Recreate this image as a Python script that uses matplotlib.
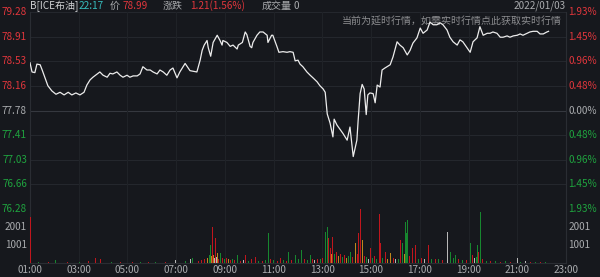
import matplotlib
matplotlib.use("Agg")
import matplotlib.pyplot as plt
from matplotlib.transforms import blended_transform_factory

plt.rcParams['font.family'] = ['Noto Sans CJK SC', 'DejaVu Sans']

# ---------------- data ----------------
prev_close = 77.78
price_ticks = [79.28, 78.91, 78.53, 78.16, 77.78, 77.41, 77.03, 76.66, 76.28]
price_tick_labels = ["79.28", "78.91", "78.53", "78.16", "77.78", "77.41", "77.03", "76.66", "76.28"]
pct_tick_labels = ["1.93%", "1.45%", "0.96%", "0.48%", "0.00%", "0.48%", "0.96%", "1.45%", "1.93%"]
vol_ticks = [1001, 2001]
vol_tick_labels = ["1001", "2001"]
time_tick_labels = ["01:00", "03:00", "05:00", "07:00", "09:00", "11:00", "13:00",
                    "15:00", "17:00", "19:00", "21:00", "23:00"]

price_times = ["01:00", "01:05", "01:12", "01:17", "01:25", "01:30", "01:37", "01:44", "01:54",
               "02:04", "02:14", "02:24", "02:34", "02:43", "02:53", "03:03", "03:13", "03:20",
               "03:28", "03:35", "03:52", "04:00", "04:10", "04:17", "04:24", "04:34", "04:42",
               "04:49", "04:59", "05:06", "05:14", "05:24", "05:31", "05:38", "05:48", "05:56",
               "06:03", "06:13", "06:20", "06:28", "06:37", "06:45", "06:52", "07:02", "07:09",
               "07:17", "07:22", "07:34", "07:51", "07:59", "08:04", "08:09", "08:16", "08:19",
               "08:25", "08:31", "08:41", "08:48", "08:53", "08:55", "09:05", "09:13", "09:20",
               "09:30", "09:33", "09:43", "09:50", "09:54", "10:02", "10:06", "10:09", "10:19",
               "10:26", "10:34", "10:44", "10:46", "10:55", "10:58", "11:08", "11:13", "11:23",
               "11:33", "11:40", "11:48", "11:53", "12:00", "12:05", "12:12", "12:22", "12:30",
               "12:37", "12:47", "12:54", "13:02", "13:07", "13:12", "13:19", "13:26", "13:29",
               "13:36", "13:44", "13:51", "14:01", "14:08", "14:16", "14:25", "14:28", "14:33",
               "14:38", "14:43", "14:48", "14:52", "14:57", "15:05", "15:10", "15:15", "15:22",
               "15:27", "15:34", "15:47", "15:54", "16:04", "16:11", "16:19", "16:29", "16:36",
               "16:43", "16:53", "17:01", "17:08", "17:18", "17:25", "17:33", "17:42", "17:50",
               "17:57", "18:07", "18:14", "18:22", "18:32", "18:39", "18:46", "18:56", "19:04",
               "19:11", "19:21", "19:28", "19:36", "19:46", "19:53", "20:00", "20:10", "20:18",
               "20:25", "20:35", "20:42", "20:50", "21:00", "21:07", "21:14", "21:24", "21:31",
               "21:39", "21:49", "21:56", "22:04", "22:13", "22:17"]
price_values = [78.51, 78.37, 78.36, 78.49, 78.48, 78.40, 78.28, 78.16, 78.08,
                78.03, 78.06, 78.02, 78.06, 78.02, 78.05, 78.02, 78.06, 78.17,
                78.25, 78.29, 78.37, 78.32, 78.29, 78.35, 78.34, 78.37, 78.32,
                78.29, 78.32, 78.29, 78.31, 78.31, 78.34, 78.45, 78.40, 78.40,
                78.37, 78.34, 78.40, 78.37, 78.32, 78.40, 78.43, 78.28, 78.37,
                78.45, 78.50, 78.39, 78.37, 78.55, 78.70, 78.78, 78.85, 78.74,
                78.61, 78.82, 78.93, 78.85, 78.78, 78.85, 78.82, 78.76, 78.78,
                78.72, 78.78, 78.82, 78.98, 78.94, 78.76, 78.74, 78.82, 78.93,
                78.98, 78.98, 78.93, 78.82, 78.93, 78.93, 78.76, 78.67, 78.68,
                78.67, 78.68, 78.67, 78.54, 78.55, 78.49, 78.45, 78.37, 78.32,
                78.28, 78.22, 78.16, 78.11, 78.06, 77.73, 77.59, 77.38, 77.65,
                77.56, 77.49, 77.43, 77.33, 77.53, 77.08, 77.33, 77.62, 78.04,
                78.18, 78.11, 77.72, 78.02, 78.05, 78.04, 77.90, 78.17, 78.14,
                78.40, 78.43, 78.48, 78.60, 78.83, 78.78, 78.74, 78.63, 78.70,
                78.81, 78.89, 79.04, 78.96, 79.01, 79.13, 79.09, 79.09, 79.12,
                79.09, 79.01, 78.90, 78.83, 78.78, 78.86, 78.83, 78.74, 78.67,
                78.83, 78.89, 79.06, 78.93, 78.96, 78.96, 78.98, 78.96, 78.90,
                78.90, 78.92, 78.90, 78.92, 78.93, 78.95, 78.93, 78.96, 78.98,
                78.99, 78.99, 78.95, 78.95, 78.98, 78.99]

vol_times = ["01:00", "01:20", "01:45", "02:02", "02:30", "03:00", "03:23", "03:40", "03:52",
             "04:20", "04:42", "05:10", "05:31", "05:50", "06:08", "06:33", "06:57", "07:22",
             "07:34", "07:39", "07:54", "08:01", "08:09", "08:16", "08:21", "08:23", "08:26",
             "08:28", "08:31", "08:33", "08:36", "08:38", "08:41", "08:43", "08:48", "08:53",
             "08:58", "09:03", "09:08", "09:13", "09:18", "09:22", "09:30", "09:37", "09:45",
             "09:50", "09:57", "10:04", "10:14", "10:22", "10:31", "10:39", "10:46", "10:51",
             "10:58", "11:08", "11:16", "11:23", "11:31", "11:35", "11:43", "11:53", "12:00",
             "12:07", "12:15", "12:22", "12:30", "12:35", "12:40", "12:47", "12:54", "12:59",
             "13:07", "13:12", "13:14", "13:19", "13:21", "13:24", "13:29", "13:34", "13:39",
             "13:44", "13:48", "13:53", "13:58", "14:03", "14:08", "14:13", "14:20", "14:25",
             "14:28", "14:33", "14:38", "14:43", "14:48", "14:52", "14:57", "15:02", "15:07",
             "15:12", "15:20", "15:22", "15:27", "15:34", "15:39", "15:47", "15:54", "15:59",
             "16:06", "16:11", "16:16", "16:21", "16:23", "16:26", "16:28", "16:33", "16:41",
             "16:48", "16:56", "17:03", "17:10", "17:20", "17:28", "17:38", "17:45", "17:55",
             "18:07", "18:14", "18:22", "18:27", "18:34", "18:44", "18:54", "19:04", "19:09",
             "19:14", "19:19", "19:21", "19:23", "19:28", "19:33", "19:43", "19:53", "20:05",
             "20:18", "20:30", "20:42", "21:00", "21:07", "21:19", "21:31", "21:44", "21:56",
             "22:08"]
vol_values = [2550, 40, 50, 170, 40, 50, 130, 260, 220,
              40, 60, 40, 60, 40, 70, 50, 170, 90,
              200, 260, 120, 170, 200, 300, 450, 1000, 400,
              2000, 450, 300, 1370, 350, 530, 250, 530, 260,
              200, 300, 250, 170, 200, 150, 450, 120, 150,
              450, 100, 200, 350, 120, 100, 150, 1650, 250,
              150, 100, 260, 150, 120, 630, 150, 450, 200,
              720, 200, 150, 450, 200, 150, 250, 250, 300,
              1740, 2000, 1370, 810, 500, 1460, 500, 600, 400,
              500, 350, 450, 300, 400, 630, 350, 1100, 500,
              1650, 3000, 1280, 400, 350, 200, 810, 300, 400,
              250, 2720, 1100, 300, 630, 250, 530, 300, 200,
              250, 1280, 1100, 500, 2280, 1650, 2370, 400, 810,
              1000, 250, 300, 200, 1000, 200, 250, 200, 150,
              1740, 630, 300, 450, 200, 150, 150, 1100, 450,
              300, 350, 1000, 630, 2830, 200, 120, 100, 120,
              80, 100, 80, 260, 60, 110, 60, 50, 50,
              50]
vol_colors = ["r", "g", "r", "g", "r", "g", "r", "r", "r",
              "g", "r", "r", "g", "r", "g", "r", "w", "g",
              "w", "g", "r", "r", "r", "o", "g", "g", "o",
              "r", "o", "w", "r", "w", "o", "r", "g", "r",
              "g", "r", "o", "r", "g", "r", "g", "r", "w",
              "r", "g", "r", "r", "g", "r", "g", "g", "r",
              "g", "r", "r", "g", "r", "g", "r", "g", "g",
              "g", "r", "g", "g", "r", "w", "r", "g", "r",
              "g", "g", "r", "r", "o", "r", "g", "r", "o",
              "r", "g", "r", "o", "g", "g", "r", "o", "r",
              "r", "r", "o", "r", "g", "w", "r", "g", "r",
              "g", "r", "r", "g", "r", "o", "o", "r", "w",
              "g", "r", "g", "o", "g", "g", "g", "r", "r",
              "r", "g", "r", "w", "r", "g", "r", "g", "r",
              "w", "g", "g", "g", "r", "g", "r", "g", "r",
              "w", "g", "g", "r", "g", "r", "g", "r", "g",
              "r", "g", "r", "w", "g", "w", "r", "g", "r",
              "g"]

# ---------------- style ----------------
BG = "#16181d"
RED = "#e0363c"
GREEN = "#1fa33f"
GRAY = "#a9abae"
GRID = "#24272d"
color_map = {"r": "#c0161d", "g": "#17872f", "w": "#b8b8b8", "o": "#bf861d"}


def to_min(s):
    h, m = s.split(":")
    return (int(h) - 1) * 60 + int(m)


W, H = 600, 277
fig = plt.figure(figsize=(W / 100, H / 100), dpi=100, facecolor=BG)


def fx(px):
    return px / W


def fy(py):
    return 1 - py / H


left, right = 30, 566
top_p, bot_p = 12.3, 209
bot_v = 263

ax = fig.add_axes([fx(left), fy(bot_p), fx(right - left), (bot_p - top_p) / H])
axv = fig.add_axes([fx(left), fy(bot_v), fx(right - left), (bot_v - bot_p) / H], sharex=ax)

for a in (ax, axv):
    a.set_facecolor(BG)
    for s in a.spines.values():
        s.set_color("#2a2d33")
        s.set_linewidth(0.8)
    a.tick_params(length=0)

ax.spines['top'].set_visible(False)
ax.spines['bottom'].set_visible(False)
axv.spines['top'].set_visible(False)

xt = [to_min(t) for t in price_times]
ax.set_xlim(0, 22 * 60)
ax.set_ylim(price_ticks[-1], price_ticks[0])

# grid
for v in price_ticks:
    c = "#35383f" if abs(v - prev_close) < 1e-6 else GRID
    ax.axhline(v, color=c, lw=0.8, zorder=1)
xticks = [i * 120 for i in range(len(time_tick_labels))]
for xv in xticks[1:-1]:
    ax.axvline(xv, color="#1f2227", lw=0.8, zorder=1)
    axv.axvline(xv, color="#1f2227", lw=0.8, zorder=1)

# overlay notice (beneath the line)
ax.text((562 - left) / (right - left), 1 - (21 - top_p) / (bot_p - top_p),
        "当前为延时行情，如需实时行情点此获取实时行情", transform=ax.transAxes,
        ha="right", va="center", fontsize=7.2, color="#8c8d90", zorder=2)

ax.plot(xt, price_values, color="#ececec", lw=0.9, zorder=3)

ax.set_yticks(price_ticks)
ax.set_yticklabels([])
ax.set_xticks(xticks)
plt.setp(ax.get_xticklabels(), visible=False)

# price labels left & right
tr = blended_transform_factory(fig.transFigure, ax.transData)
for v, lab, pl in zip(price_ticks, price_tick_labels, pct_tick_labels):
    if v > prev_close + 1e-6:
        c = RED
    elif v < prev_close - 1e-6:
        c = GREEN
    else:
        c = GRAY
    ax.text(fx(27), v, lab, transform=tr, ha="right", va="center", fontsize=7.2, color=c, clip_on=False)
    ax.text(fx(568.5), v, pl, transform=tr, ha="left", va="center", fontsize=7.2, color=c, clip_on=False)

# volume
vx = [to_min(t) for t in vol_times]
axv.vlines(vx, 0, vol_values, colors=[color_map[c] for c in vol_colors],
           linewidth=0.55, zorder=3, antialiased=False)
axv.set_ylim(0, 3000)
axv.set_yticks(vol_ticks)
axv.set_yticklabels([])
trv = blended_transform_factory(fig.transFigure, axv.transData)
for v, lab in zip(vol_ticks, vol_tick_labels):
    axv.text(fx(27), v, lab, transform=trv, ha="right", va="center", fontsize=7.2, color=GRAY, clip_on=False)
    axv.text(fx(568.5), v, lab, transform=trv, ha="left", va="center", fontsize=7.2, color=GRAY, clip_on=False)

axv.set_xticks(xticks)
axv.set_xticklabels(time_tick_labels, fontsize=7.2, color=GRAY)
axv.tick_params(axis="x", pad=1.5)

# header
hdr = [(30, "B[ICE布油]", "#cfd0d2"), (79, "22:17", "#37bcbc"), (110, "价", GRAY),
       (123, "78.99", RED), (163, "涨跌", GRAY), (190, "1.21(1.56%)", RED),
       (262, "成交量", GRAY), (293, "0", GRAY)]
for x0, s, c in hdr:
    fig.text(fx(x0), fy(6), s, ha="left", va="center", fontsize=7.2, color=c)
fig.text(fx(566), fy(6), "2022/01/03", ha="right", va="center", fontsize=7.2, color=GRAY)

fig.savefig("out.png", dpi=100, facecolor=BG)
